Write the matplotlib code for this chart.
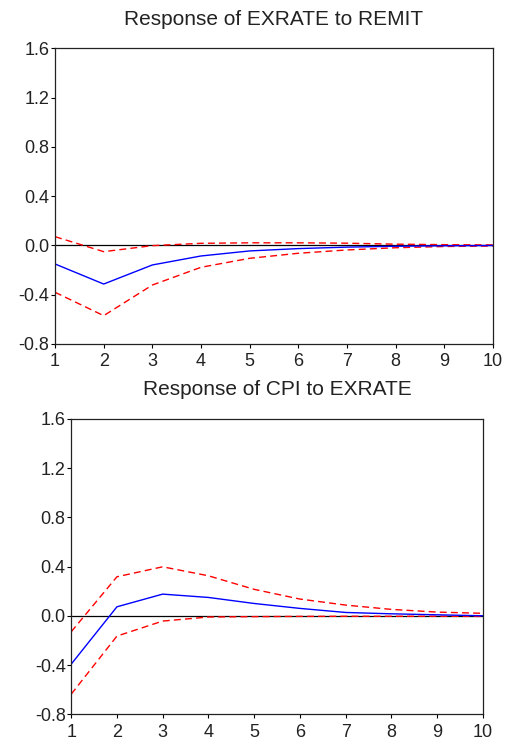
import matplotlib
matplotlib.use("Agg")
import matplotlib.pyplot as plt

plt.rcParams['font.family'] = ['Liberation Sans', 'DejaVu Sans']

periods = [1, 2, 3, 4, 5, 6, 7, 8, 9, 10]

# Response of EXRATE to REMIT
ex_resp = [-0.152, -0.315, -0.160, -0.087, -0.046, -0.027, -0.015, -0.008, -0.004, -0.002]
ex_upper = [0.070, -0.052, -0.003, 0.016, 0.020, 0.020, 0.017, 0.009, 0.005, 0.003]
ex_lower = [-0.382, -0.572, -0.323, -0.179, -0.106, -0.065, -0.038, -0.020, -0.010, -0.006]

# Response of CPI to EXRATE
cpi_resp = [-0.393, 0.073, 0.176, 0.149, 0.100, 0.060, 0.027, 0.016, 0.008, 0.000]
cpi_upper = [-0.130, 0.317, 0.398, 0.325, 0.215, 0.136, 0.087, 0.052, 0.030, 0.020]
cpi_lower = [-0.637, -0.165, -0.043, -0.010, -0.007, -0.005, -0.004, -0.004, -0.004, -0.005]

titles = ["Response of EXRATE to REMIT", "Response of CPI to EXRATE"]
yticks = [-0.8, -0.4, 0.0, 0.4, 0.8, 1.2, 1.6]

fig = plt.figure(figsize=(5.05, 7.44), dpi=100)
ax1 = fig.add_axes([0.109, 0.538, 0.867, 0.397])
ax2 = fig.add_axes([0.141, 0.040, 0.815, 0.397])

panels = [(ax1, ex_resp, ex_upper, ex_lower), (ax2, cpi_resp, cpi_upper, cpi_lower)]

for i, (ax, resp, up, lo) in enumerate(panels):
    ax.axhline(0, color='black', linewidth=0.9)
    ax.plot(periods, up, color='red', linestyle=(0, (5, 3)), linewidth=1.0)
    ax.plot(periods, lo, color='red', linestyle=(0, (5, 3)), linewidth=1.0)
    ax.plot(periods, resp, color='blue', linewidth=1.0)
    ax.set_xlim(1, 10)
    ax.set_ylim(-0.8, 1.6)
    ax.set_xticks(periods)
    ax.set_yticks(yticks)
    ax.set_yticklabels([f"{v:.1f}" for v in yticks])
    ax.tick_params(direction='out', length=3, width=0.8, labelsize=13,
                   labelcolor='#222222', top=False, right=False)
    ax.tick_params(axis='y', pad=1)
    ax.tick_params(axis='x', pad=4)
    for s in ax.spines.values():
        s.set_linewidth(0.9)
        s.set_color('#222222')
    ax.set_title(titles[i], fontsize=15, pad=17, color='#222222')

fig.savefig("out.png", dpi=100)
